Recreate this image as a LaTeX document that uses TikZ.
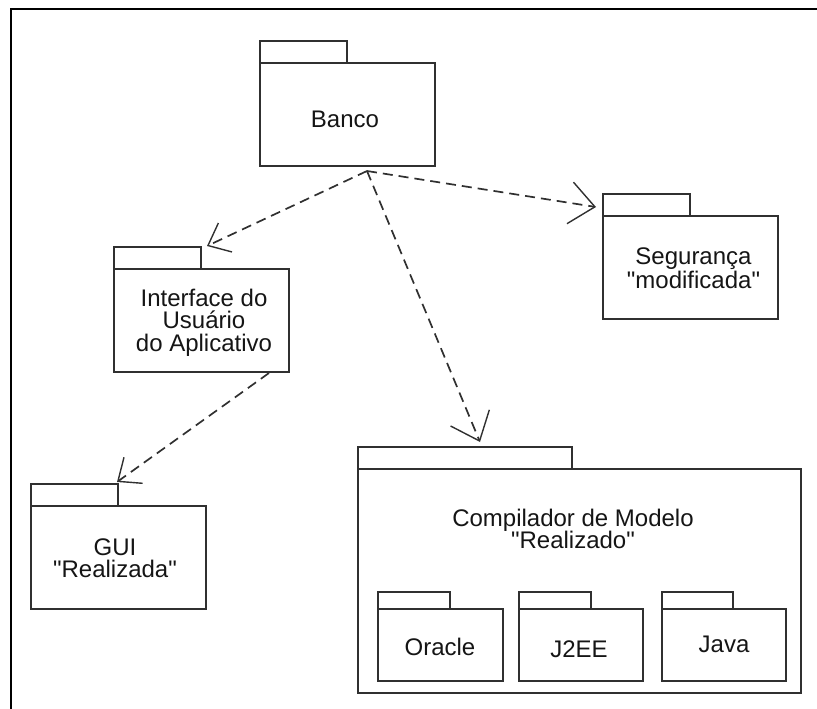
\documentclass[tikz,border=0pt]{standalone}
\usepackage{fontspec}
\setmainfont{Liberation Sans}[Ligatures=TeXOff]
\usetikzlibrary{arrows.meta}
\definecolor{linec}{HTML}{303030}
\definecolor{textc}{HTML}{151515}
\begin{document}
\begin{tikzpicture}[x=1pt,y=-1pt]
\tikzset{
  body/.style={draw=linec, line width=1.3pt, inner sep=0pt, outer sep=0pt, anchor=north west},
  tabbox/.style={draw=linec, line width=1.3pt, inner sep=0pt, outer sep=0pt, anchor=south west},
  stdbody/.style={body, minimum width=175pt, minimum height=103pt},
  stdtab/.style={tabbox, minimum width=87pt, minimum height=22pt},
  smallbody/.style={body, minimum width=125pt, minimum height=72pt},
  smalltab/.style={tabbox, minimum width=72pt, minimum height=17pt},
  lbl/.style={font=\fontsize{24}{22.4}\selectfont, text=textc, align=center, inner sep=0pt},
  dep/.style={draw=linec, line width=1.7pt, dash pattern=on 10pt off 6pt},
  bigbarb/.style={-{Straight Barb[length=25pt,width=42pt,line width=1.4pt]}},
  smallbarb/.style={-{Straight Barb[length=19pt,width=32pt,line width=1.4pt]}},
  frameline/.style={draw=black, line width=2.2pt}
}
\useasboundingbox (0,0) rectangle (817,709);
% frame (top and left edges)
\draw[frameline] (817,9) -- (11,9) -- (11,709);

% packages
\node[stdbody] (banco) at (260,63) {};
\node[stdtab] (bancoTab) at (banco.north west) {};
\node[stdbody] (seg) at (603,216) {};
\node[stdtab] (segTab) at (seg.north west) {};
\node[stdbody] (ui) at (114,269) {};
\node[stdtab] (uiTab) at (ui.north west) {};
\node[stdbody] (gui) at (31,506) {};
\node[stdtab] (guiTab) at (gui.north west) {};
\node[body, minimum width=443pt, minimum height=224pt] (comp) at (358,469) {};
\node[tabbox, minimum width=214pt, minimum height=22pt] (compTab) at (comp.north west) {};
\node[smallbody] (ora) at (378,609) {};
\node[smalltab] (oraTab) at (ora.north west) {};
\node[smallbody, minimum width=124pt] (j2ee) at (519,609) {};
\node[smalltab] (j2eeTab) at (j2ee.north west) {};
\node[smallbody, minimum width=124pt] (java) at (662,609) {};
\node[smalltab, minimum width=71pt] (javaTab) at (java.north west) {};

% labels
\node[lbl] (bancoLbl) at (345,119.5) {Banco};
\node[lbl] (segLbl) at (693.5,268) {Segurança\\"modificada"};
\node[lbl] (uiLbl) at (204,322.5) {Interface do\\Usuário\\do Aplicativo};
\node[lbl] (guiLbl) at (115,558) {GUI\\"Realizada"};
\node[lbl] (compLbl) at (573,529) {Compilador de Modelo\\"Realizado"};
\node[lbl] (oraLbl) at (440,646.7) {Oracle};
\node[lbl] (j2eeLbl) at (579,649) {J2EE};
\node[lbl] (javaLbl) at (724,644) {Java};

% connector end points
\coordinate (bancoOut) at (367,171);
\coordinate (uiIn) at (207,246);
\coordinate (segIn) at (596,207);
\coordinate (compIn) at (480,442);
\coordinate (uiOut) at (269,373);
\coordinate (guiIn) at (117,482);

% dependencies
\draw[dep, smallbarb] (bancoOut) -- (uiIn);
\draw[dep, bigbarb] (bancoOut) -- (segIn);
\draw[dep, bigbarb] (bancoOut) -- (compIn);
\draw[dep, smallbarb] (uiOut) -- (guiIn);
\end{tikzpicture}
\end{document}
